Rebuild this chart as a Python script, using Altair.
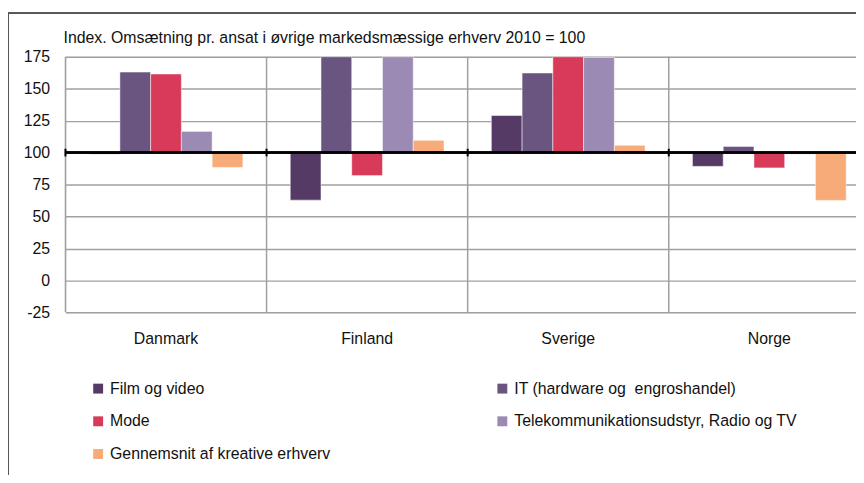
import altair as alt
import pandas as pd

countries = ["Danmark", "Finland", "Sverige", "Norge"]
series = [
    "Film og video",
    "IT (hardware og \u00a0engroshandel)",
    "Mode",
    "Telekommunikationsudstyr, Radio og TV",
    "Gennemsnit af kreative erhverv",
]
colors = ["#553a66", "#6a5580", "#d83a5a", "#9b8ab3", "#f7ab78"]
# legend fills column by column: left column first, then right column
legend_order = [series[0], series[2], series[4], series[1], series[3]]
legend_colors = [colors[0], colors[2], colors[4], colors[1], colors[3]]
title_text = "Index. Omsætning pr. ansat i øvrige markedsmæssige erhverv 2010 = 100"
y_ticks = [-25, 0, 25, 50, 75, 100, 125, 150, 175]

film = [98.8, 62.8, 129.0, 89.2]
it = [163.0, 175.0, 162.3, 104.8]
mode = [161.5, 82.0, 175.0, 88.0]
tele = [116.6, 175.0, 174.4, 98.8]
gns = [88.4, 109.6, 105.7, 62.6]

rows = []
for name, vals in zip(series, [film, it, mode, tele, gns]):
    for c, v in zip(countries, vals):
        rows.append({"country": c, "series": name, "value": v})
df = pd.DataFrame(rows)
cdf = pd.DataFrame({"country": countries})
tdf = pd.DataFrame({"t": [title_text]})

FONT = "Liberation Sans"
W, H = 798, 258

xscale = alt.Scale(range=[0, 812], paddingInner=0, paddingOuter=0)
yscale = alt.Scale(domain=[-25, 175], nice=False)
yaxis = alt.Axis(title=None, values=y_ticks,
                 labelExpr="'' + datum.value", labelOverlap=False,
                 ticks=False, tickSize=0, domain=False, grid=True,
                 gridColor="#a0a0a0", gridWidth=1.5,
                 labelFontSize=16, labelPadding=16,
                 labelColor="#111", labelFont=FONT)

bars = alt.Chart(df).mark_bar(stroke="white", strokeWidth=0.5).encode(
    x=alt.X("country:N", sort=countries, scale=xscale,
            axis=alt.Axis(title=None, labelAngle=0, labelAlign="center",
                          ticks=False, domain=False,
                          grid=False, labelFontSize=16, labelPadding=18,
                          labelColor="#111", labelFont=FONT)),
    xOffset=alt.XOffset("series:N", sort=series,
                        scale=alt.Scale(paddingOuter=0.77, paddingInner=0)),
    y=alt.Y("value:Q", scale=yscale, axis=yaxis),
    y2=alt.datum(100),
    color=alt.Color("series:N",
                    scale=alt.Scale(domain=legend_order, range=legend_colors),
                    legend=alt.Legend(title=None, orient="none",
                                      legendX=25, legendY=327, columns=2,
                                      columnPadding=165, rowPadding=17,
                                      symbolType="square", symbolSize=100,
                                      symbolStrokeWidth=0, labelFontSize=16,
                                      labelFont=FONT, labelColor="#111",
                                      labelOffset=4, labelLimit=400)),
)

vlines = alt.Chart(cdf).mark_rule(color="#a0a0a0", strokeWidth=1.5).encode(
    x=alt.X("country:N", sort=countries, scale=xscale, bandPosition=0),
    y=alt.datum(175, scale=yscale, axis=yaxis),
    y2=alt.datum(-25),
)

base100 = alt.Chart(cdf).mark_rule(color="black", strokeWidth=2).encode(
    y=alt.datum(100, scale=yscale, axis=yaxis),
)

ticks = alt.Chart(cdf).mark_rule(color="black", strokeWidth=2).encode(
    x=alt.X("country:N", sort=countries, scale=xscale, bandPosition=0),
    y=alt.datum(103, scale=yscale, axis=yaxis),
    y2=alt.datum(97),
)

title = alt.Chart(tdf).mark_text(
    font=FONT, fontSize=16, color="#111", align="left", baseline="alphabetic"
).encode(x=alt.value(-2), y=alt.value(-14), text="t:N")

frame_left = alt.Chart(cdf).mark_rule(color="#555", strokeWidth=2).encode(
    x=alt.value(-58), y=alt.value(-44), y2=alt.value(500)
)
frame_top = alt.Chart(cdf).mark_rule(color="#555", strokeWidth=1.5).encode(
    x=alt.value(-58), x2=alt.value(900), y=alt.value(-44)
)

chart = alt.layer(bars, vlines, base100, ticks, title, frame_left, frame_top).properties(
    width=W, height=H,
    padding={"left": 58, "top": 47, "right": 0, "bottom": 162},
    autosize=alt.AutoSizeParams(type="none"),
).configure_view(stroke=None).configure(background="white")

chart.save("out.html", embed_options={"renderer": "svg", "actions": False})
